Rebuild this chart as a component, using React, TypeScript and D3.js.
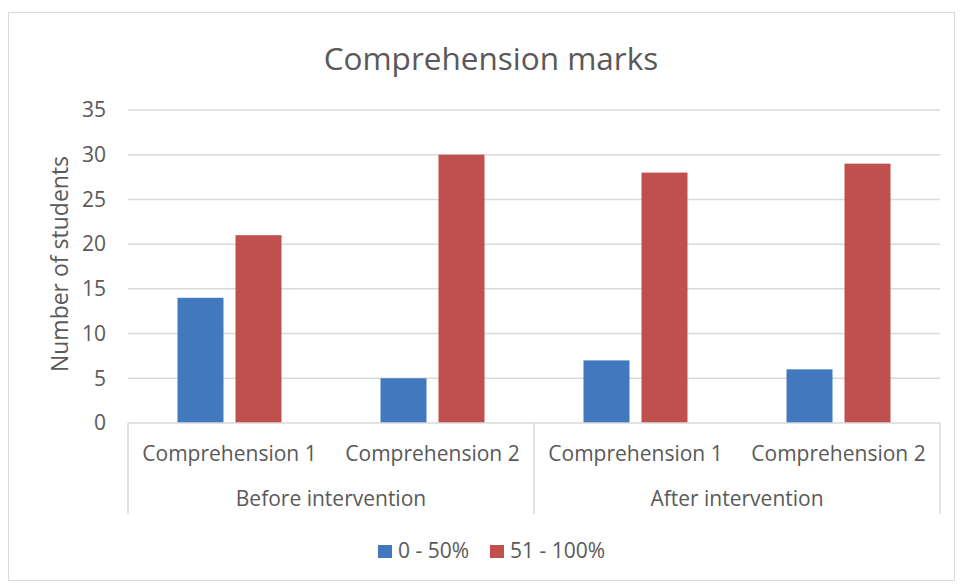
import React from "react";
import * as d3 from "d3";

const groups = ["Before intervention", "After intervention"];
const categories = ["Comprehension 1", "Comprehension 2", "Comprehension 1", "Comprehension 2"];
const categoryGroup = [0, 0, 1, 1];
const seriesNames = ["0 - 50%", "51 - 100%"];
const lowMarks = [14, 5, 7, 6];
const highMarks = [21, 30, 28, 29];
const yTicks = [0, 5, 10, 15, 20, 25, 30, 35];
const colors = ["#4178BE", "#C0504D"];

const W = 960, H = 585;
const left = 128, right = 940, top = 110, bottom = 423;
const font = "'Open Sans', sans-serif";
const textColor = "#595959";

export default function App() {
  const y = d3.scaleLinear().domain([0, 35]).range([bottom, top]);
  const idx = categories.map((_, i) => String(i));
  const x = d3.scaleBand().domain(idx).range([left, right]).paddingInner(0).paddingOuter(0);
  const bw = x.bandwidth();
  const barW = 46;
  const gap = 12;
  const series = [lowMarks, highMarks];
  const groupBounds = groups.map((_, g) => {
    const cats = idx.filter((_, i) => categoryGroup[i] === g);
    const x0 = x(cats[0])!;
    const x1 = x(cats[cats.length - 1])! + bw;
    return [x0, x1];
  });
  return (
    <svg width={W} height={H} style={{ position: "absolute", left: 0, top: 0 }}>
      <rect x={0} y={0} width={W} height={H} fill="#fff" />
      <rect x={8.5} y={12.5} width={946} height={568} fill="#fff" stroke="#d9d9d9" />
      <text x={491} y={70} textAnchor="middle" fontFamily={font} fontSize={31.5} fill={textColor}>
        Comprehension marks
      </text>
      {yTicks.map((t) => (
        <g key={t}>
          {t > 0 && (
            <line x1={left} x2={right} y1={y(t)} y2={y(t)} stroke="#d9d9d9" strokeWidth={1.5} />
          )}
          <text x={106} y={y(t)} dy="0.35em" textAnchor="end" fontFamily={font} fontSize={21} fill={textColor}>
            {t}
          </text>
        </g>
      ))}
      <text
        transform={`translate(68, 264) rotate(-90)`}
        textAnchor="middle"
        fontFamily={font}
        fontSize={23}
        fill={textColor}
      >
        Number of students
      </text>
      {idx.map((c, i) =>
        series.map((s, k) => {
          const cx = x(c)! + bw / 2;
          const bx = k === 0 ? cx - gap / 2 - barW : cx + gap / 2;
          return (
            <rect key={`${i}-${k}`} x={bx} y={y(s[i])} width={barW} height={bottom - y(s[i])} fill={colors[k]} />
          );
        })
      )}
      <line x1={left} x2={right} y1={bottom} y2={bottom} stroke="#d9d9d9" strokeWidth={1.5} />
      {[left, ...groupBounds.map((b) => b[1])].map((gx, i) => (
        <line key={i} x1={gx} x2={gx} y1={bottom} y2={514} stroke="#d9d9d9" strokeWidth={1.5} />
      ))}
      {idx.map((c, i) => (
        <text key={i} x={x(c)! + bw / 2} y={454} dy="0.35em" textAnchor="middle" fontFamily={font} fontSize={21} fill={textColor}>
          {categories[i]}
        </text>
      ))}
      {groups.map((g, i) => (
        <text key={g} x={(groupBounds[i][0] + groupBounds[i][1]) / 2} y={499} dy="0.35em" textAnchor="middle" fontFamily={font} fontSize={21} fill={textColor}>
          {g}
        </text>
      ))}
      {seriesNames.map((n, k) => {
        const lx = k === 0 ? 378 : 490;
        return (
          <g key={n}>
            <rect x={lx} y={545} width={14} height={13} fill={colors[k]} />
            <text x={lx + 20} y={551} dy="0.35em" fontFamily={font} fontSize={21} fill={textColor}>
              {n}
            </text>
          </g>
        );
      })}
    </svg>
  );
}
